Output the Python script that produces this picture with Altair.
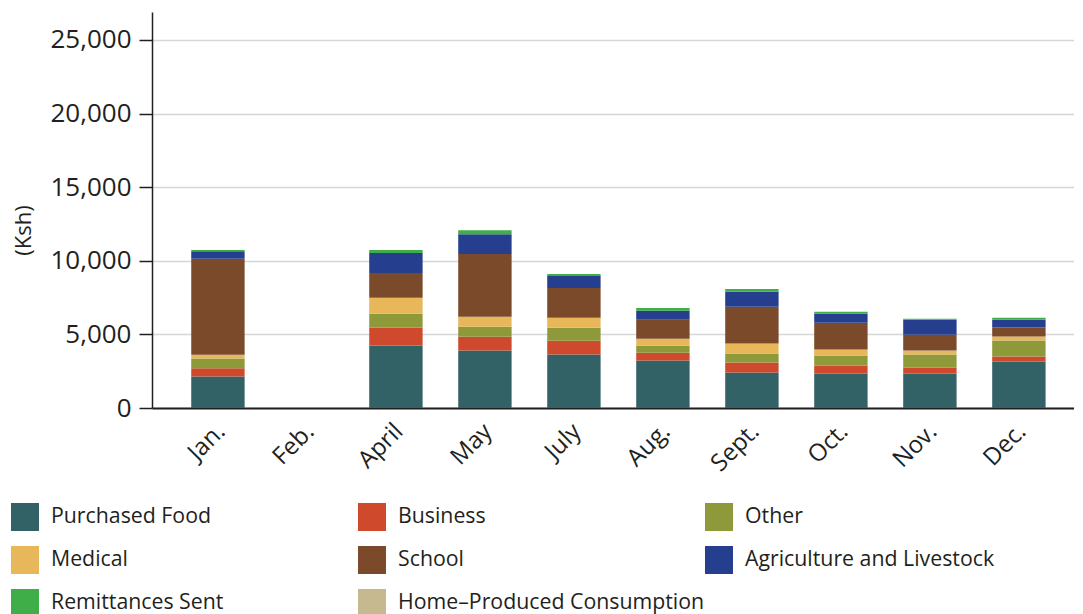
import altair as alt
import pandas as pd

months = ["Jan.", "Feb.", "April", "May", "July", "Aug.", "Sept.", "Oct.", "Nov.", "Dec."]
categories = [
    "Purchased Food", "Business", "Other", "Medical", "School",
    "Agriculture and Livestock", "Remittances Sent", "Home–Produced Consumption",
]
colors = ["#336266", "#cf4a2d", "#8e9a3a", "#e8b75a", "#7b4a2a", "#253f8e", "#3fae49", "#c7b98f"]

purchased_food = [2140, 0, 4240, 3900, 3630, 3220, 2410, 2350, 2350, 3160]
business = [560, 0, 1220, 945, 945, 540, 680, 540, 400, 340]
other = [655, 0, 945, 675, 880, 470, 610, 675, 880, 1080]
medical = [270, 0, 1080, 675, 675, 475, 675, 405, 270, 270]
school = [6510, 0, 1690, 4260, 2030, 1285, 2500, 1825, 1080, 610]
agriculture = [520, 0, 1350, 1350, 810, 610, 1015, 610, 1015, 540]
remittances = [70, 0, 200, 270, 135, 200, 200, 135, 70, 135]
home_produced = [0, 0, 0, 0, 0, 0, 0, 0, 0, 0]

y_ticks = [0, 5000, 10000, 15000, 20000, 25000]

series = [purchased_food, business, other, medical, school, agriculture, remittances, home_produced]
rows = []
for ci, (cat, vals) in enumerate(zip(categories, series)):
    for m, v in zip(months, vals):
        rows.append({"month": m, "category": cat, "value": v, "idx": ci})
df = pd.DataFrame(rows)

FONT = "Open Sans"
DARK = "#231f20"

chart = alt.Chart(df).mark_bar().encode(
    x=alt.X(
        "month:N", sort=months, title=None,
        scale=alt.Scale(paddingInner=0.4, paddingOuter=0.38, align=0.58),
        axis=alt.Axis(
            labelAngle=315, labelFontSize=24, labelFont=FONT, labelColor=DARK,
            ticks=False, domainColor=DARK, domainWidth=2, labelPadding=11,
            labelOffset=-5, grid=False,
        ),
    ),
    y=alt.Y(
        "value:Q", stack="zero",
        scale=alt.Scale(domain=[0, 26900], nice=False),
        axis=alt.Axis(
            values=y_ticks, format=",.0f", title="(Ksh)", titleFont=FONT,
            titleFontSize=22, titleFontWeight="normal", titleColor=DARK,
            titleX=-129, titleY=218, titleAngle=270, titleAlign="center",
            titleBaseline="middle",
            labelFontSize=26, labelFont=FONT, labelColor=DARK, labelPadding=8,
            tickSize=13, tickWidth=1.5, tickColor=DARK,
            domainColor=DARK, domainWidth=1.5,
            gridColor="#d6d6d6", gridWidth=1.5,
        ),
    ),
    color=alt.Color(
        "category:N",
        scale=alt.Scale(domain=categories, range=colors),
        legend=alt.Legend(
            orient="none", legendX=-141, legendY=491, direction="horizontal",
            columns=3, title=None, symbolType="square", symbolSize=784,
            symbolStrokeWidth=0, symbolOpacity=1, labelFontSize=21.3,
            labelFont=FONT, labelColor=DARK, labelOffset=12, rowPadding=15,
            columnPadding=0, gridAlign="all", labelLimit=500,
        ),
    ),
    order=alt.Order("idx:Q", sort="ascending"),
).properties(
    width=922, height=396,
    autosize=alt.AutoSizeParams(type="none"),
    padding={"left": 144, "top": 4, "right": 0, "bottom": 206},
).configure_view(stroke=None)

chart.save("out.html", embed_options={"renderer": "svg", "actions": False})
